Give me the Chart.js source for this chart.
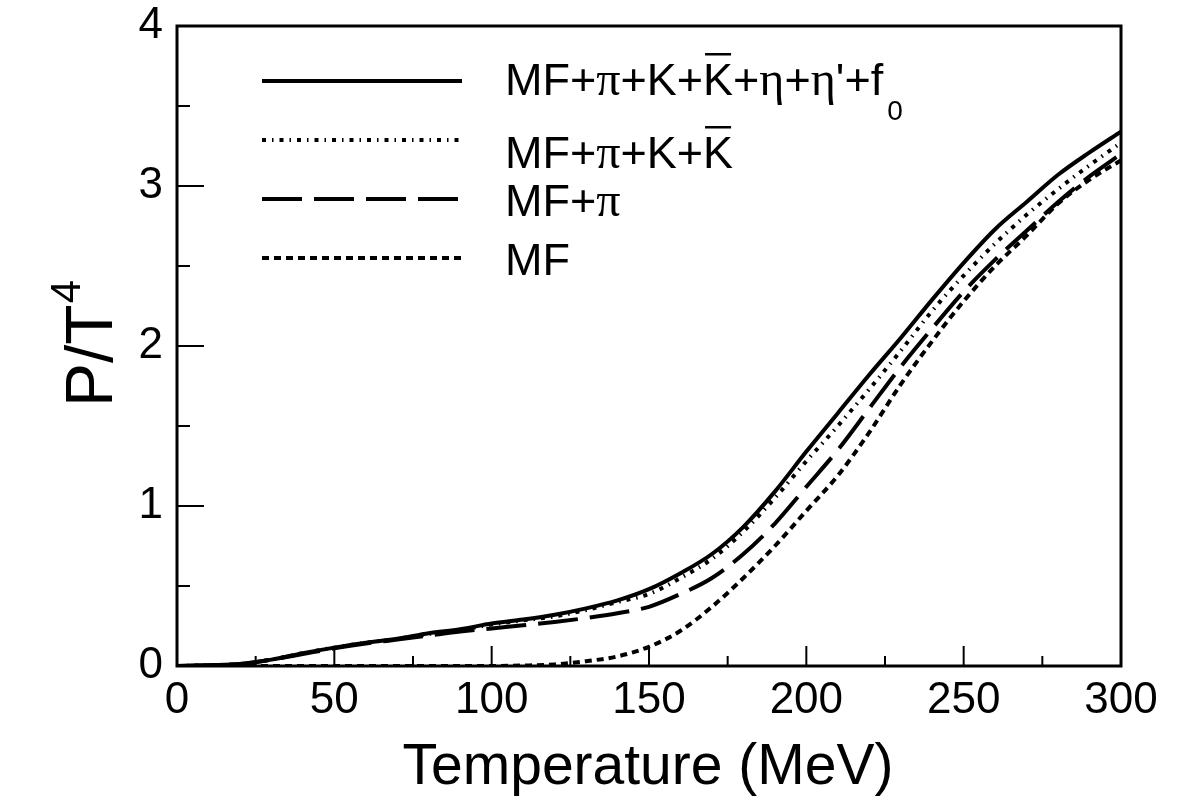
<!DOCTYPE html>
<html>
<head>
<meta charset="utf-8">
<script src="https://cdn.jsdelivr.net/npm/chart.js@4.4.1/dist/chart.umd.min.js"></script>
<style>
  html, body { margin: 0; padding: 0; background: #fff; }
  #wrap { width: 1182px; height: 800px; }
</style>
</head>
<body>
<div id="wrap"><canvas id="chartCanvas" width="1182" height="800"></canvas></div>
<script>
// temperature grid (MeV)
const temperatures = [0, 10, 20, 30, 40, 50, 60, 70, 80, 90, 100, 110, 120, 130, 140, 150,
  160, 170, 180, 190, 200, 210, 220, 230, 240, 250, 260, 270, 280, 290, 300];

// P/T^4
const pressureFull = [0, 0.005, 0.012, 0.04, 0.08, 0.115, 0.145, 0.17, 0.205, 0.23, 0.265, 0.29, 0.32, 0.36, 0.41, 0.48,
  0.58, 0.70, 0.87, 1.09, 1.34, 1.58, 1.82, 2.05, 2.29, 2.52, 2.73, 2.90, 3.07, 3.21, 3.34];
const pressureKaons = [0, 0.005, 0.012, 0.04, 0.08, 0.115, 0.145, 0.17, 0.2, 0.225, 0.26, 0.285, 0.31, 0.35, 0.40, 0.45,
  0.55, 0.67, 0.84, 1.05, 1.28, 1.50, 1.73, 1.97, 2.22, 2.44, 2.64, 2.82, 2.98, 3.13, 3.27];
const pressurePion = [0, 0.005, 0.012, 0.04, 0.075, 0.11, 0.14, 0.165, 0.19, 0.215, 0.235, 0.255, 0.275, 0.30, 0.33, 0.37,
  0.45, 0.55, 0.70, 0.89, 1.12, 1.35, 1.61, 1.87, 2.11, 2.34, 2.54, 2.72, 2.90, 3.06, 3.20];
const pressureMF = [0, 0, 0, 0, 0, 0, 0, 0, 0, 0, 0, 0.003, 0.01, 0.03, 0.06, 0.12,
  0.22, 0.37, 0.55, 0.75, 0.97, 1.19, 1.46, 1.76, 2.03, 2.28, 2.50, 2.69, 2.89, 3.04, 3.16];

const xTicks = [0, 50, 100, 150, 200, 250, 300];
const yTicks = [0, 1, 2, 3, 4];

const SANS = '"Liberation Sans", Arial, sans-serif';
const SERIF = '"Liberation Serif", "Times New Roman", serif';

// legend label pieces: [text, kind]  kind: s = sans, g = greek (serif), b = overlined, o = subscript
const legendLabels = [
  [['MF+', 's'], ['π', 'g'], ['+K+', 's'], ['K', 'b'], ['+', 's'], ['η', 'g'], ['+', 's'], ['η', 'g'], ["'+f", 's'], ['0', 'o']],
  [['MF+', 's'], ['π', 'g'], ['+K+', 's'], ['K', 'b']],
  [['MF+', 's'], ['π', 'g']],
  [['MF', 's']]
];

function toPoints(ys) {
  return temperatures.map((t, i) => ({ x: t, y: ys[i] }));
}

function lineSet(label, ys, width, dash) {
  return {
    label: label,
    data: toPoints(ys),
    borderColor: '#000',
    borderWidth: width,
    borderDash: dash,
    pointRadius: 0,
    fill: false,
    cubicInterpolationMode: 'monotone'
  };
}

function drawRich(ctx, parts, x, baseline) {
  ctx.textBaseline = 'alphabetic';
  ctx.textAlign = 'left';
  for (const [t, kind] of parts) {
    let y = baseline;
    if (kind === 'g') ctx.font = '48px ' + SERIF;
    else if (kind === 'o') { ctx.font = '28px ' + SANS; y += 25; x += 4; }
    else ctx.font = '45px ' + SANS;
    ctx.fillText(t, x, y);
    const w = ctx.measureText(t).width;
    if (kind === 'b') ctx.fillRect(x + 2, baseline - 42, w - 4, 2.5);
    x += w;
  }
}

const axesPlugin = {
  id: 'axesDecor',
  afterDraw(chart) {
    const { ctx, chartArea: a, scales: { x, y } } = chart;
    ctx.save();
    ctx.strokeStyle = '#000';
    ctx.fillStyle = '#000';

    // inward tick marks
    ctx.lineWidth = 2;
    ctx.beginPath();
    for (let v = 0; v <= 300; v += 25) {
      const px = x.getPixelForValue(v);
      ctx.moveTo(px, a.bottom);
      ctx.lineTo(px, a.bottom - (v % 50 === 0 ? 20 : 10));
    }
    for (let v = 0; v <= 4; v += 0.5) {
      const py = y.getPixelForValue(v);
      ctx.moveTo(a.left, py);
      ctx.lineTo(a.left + (v % 1 === 0 ? 27 : 13), py);
    }
    ctx.stroke();

    // frame
    ctx.lineWidth = 3;
    ctx.strokeRect(a.left, a.top, a.right - a.left, a.bottom - a.top);

    // x title
    ctx.font = '57px ' + SANS;
    ctx.textAlign = 'center';
    ctx.textBaseline = 'alphabetic';
    ctx.fillText('Temperature (MeV)', 648, 784);

    // y title P/T^4
    ctx.save();
    ctx.translate(112, 407);
    ctx.rotate(-Math.PI / 2);
    ctx.textAlign = 'left';
    ctx.font = '66px ' + SANS;
    ctx.fillText('P/T', 0, 0);
    const w = ctx.measureText('P/T').width;
    ctx.font = '42px ' + SANS;
    ctx.fillText('4', w + 1, -32);
    ctx.restore();

    // legend
    const rows = [
      { line: 81, base: 95 },
      { line: 140, base: 168 },
      { line: 199, base: 216 },
      { line: 258, base: 275 }
    ];
    chart.data.datasets.forEach((ds, i) => {
      ctx.save();
      ctx.lineWidth = ds.borderWidth;
      ctx.setLineDash(ds.borderDash || []);
      ctx.beginPath();
      ctx.moveTo(262, rows[i].line);
      ctx.lineTo(462, rows[i].line);
      ctx.stroke();
      ctx.restore();
      drawRich(ctx, legendLabels[i], 505, rows[i].base);
    });
    ctx.restore();
  }
};

function noPad(scale) {
  scale.paddingTop = 0;
  scale.paddingBottom = 0;
  scale.paddingLeft = 0;
  scale.paddingRight = 0;
}

const ctx = document.getElementById('chartCanvas').getContext('2d');
const chart = new Chart(ctx, {
  type: 'line',
  data: {
    datasets: [
      lineSet('MF+π+K+K̄+η+η\'+f0', pressureFull, 4, []),
      lineSet('MF+π+K+K̄', pressureKaons, 4, [4, 6, 1.5, 6]),
      lineSet('MF+π', pressurePion, 4, [40, 12]),
      lineSet('MF', pressureMF, 4, [7, 5])
    ]
  },
  options: {
    responsive: false,
    animation: false,
    devicePixelRatio: 1,
    layout: { padding: { top: 26, right: 61, left: 0, bottom: 0 } },
    plugins: {
      legend: { display: false },
      tooltip: { enabled: false }
    },
    scales: {
      x: {
        type: 'linear',
        min: 0,
        max: 300,
        afterFit(scale) { scale.height = 134; noPad(scale); },
        afterBuildTicks(scale) { scale.ticks = xTicks.map(v => ({ value: v })); },
        grid: { display: false, drawTicks: false },
        border: { display: false },
        ticks: { color: '#000', font: { family: SANS, size: 44 }, padding: 8, maxRotation: 0 }
      },
      y: {
        min: 0,
        max: 4,
        afterFit(scale) { scale.width = 177; noPad(scale); },
        afterBuildTicks(scale) { scale.ticks = yTicks.map(v => ({ value: v })); },
        grid: { display: false, drawTicks: false },
        border: { display: false },
        ticks: { color: '#000', font: { family: SANS, size: 44 }, padding: 14 }
      }
    }
  },
  plugins: [axesPlugin]
});
</script>
</body>
</html>
